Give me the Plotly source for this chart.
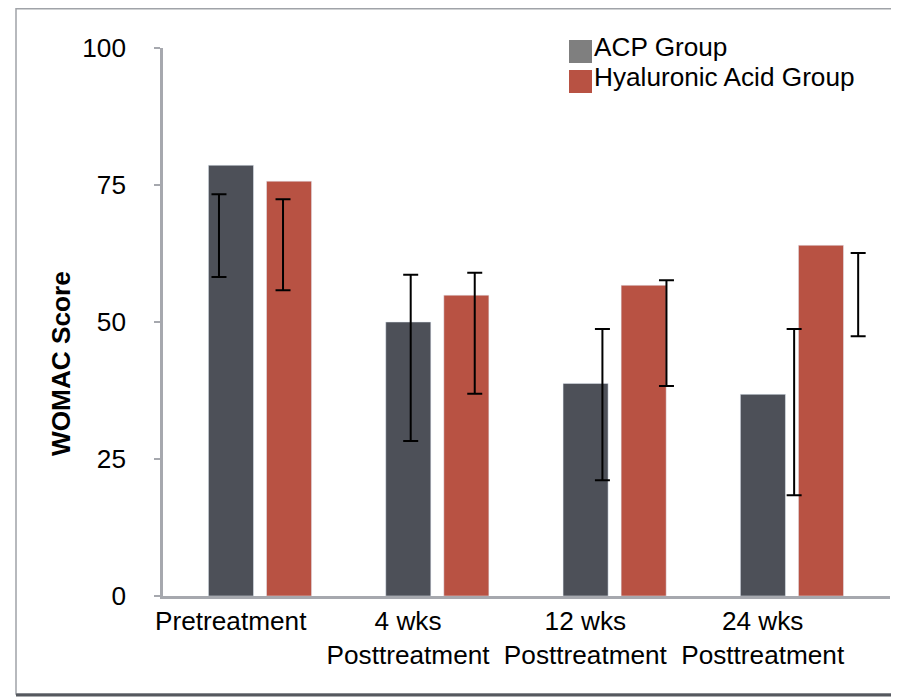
import plotly.graph_objects as go

# ---- data ----
categories = ["Pretreatment", "4 wks<br>Posttreatment", "12 wks<br>Posttreatment", "24 wks<br>Posttreatment"]
series_names = ["ACP Group", "Hyaluronic Acid Group"]
acp_values = [78.6, 50.0, 38.8, 36.8]
ha_values = [75.7, 54.9, 56.7, 64.0]
acp_err_low = [58.2, 28.3, 21.1, 18.4]
acp_err_high = [73.3, 58.6, 48.7, 48.7]
ha_err_low = [55.8, 36.9, 38.3, 47.4]
ha_err_high = [72.4, 59.0, 57.6, 62.6]
y_ticks = [0, 25, 50, 75, 100]

# ---- styles / layout helpers ----
OFF = 8                      # page body margin
W, H = 899 - OFF, 697 - OFF
L, R, T, B = 163 - OFF, 9, 48 - OFF, 101
PW, PH = W - L - R, H - T - B
FONT = "Liberation Sans, Arial, sans-serif"
ACP_COLOR = "rgb(77,80,88)"
HA_COLOR = "rgb(184,82,67)"
ACP_SWATCH = "rgb(127,127,127)"
AXIS_COLOR = "rgb(166,168,174)"
FS = 26.2


def px_x(p):  # screen px -> paper
    return (p - OFF - L) / PW


def px_y(p):
    return (H - B - (p - OFF)) / PH


idx = list(range(len(categories)))
tick_shift = -0.165  # labels sit under the first bar of each group
err_off = 0.167      # error bar overlay offset on its own axis

fig = go.Figure()
fig.add_trace(go.Bar(x=idx, y=acp_values, name=series_names[0], marker_color=ACP_COLOR,
                     showlegend=False))
fig.add_trace(go.Bar(x=idx, y=ha_values, name=series_names[1], marker_color=HA_COLOR,
                     showlegend=False))

for lows, highs, sign in [(acp_err_low, acp_err_high, -1), (ha_err_low, ha_err_high, 1)]:
    fig.add_trace(go.Scatter(
        x=[i + sign * err_off for i in idx], y=lows, xaxis="x2", mode="markers",
        marker=dict(opacity=0, size=1), showlegend=False, hoverinfo="skip",
        error_y=dict(type="data", symmetric=False,
                     array=[h - l for h, l in zip(highs, lows)],
                     arrayminus=[0] * len(lows),
                     color="black", thickness=2, width=7.5)))

fig.update_layout(
    width=W, height=H,
    margin=dict(l=L, r=R, t=T, b=B, pad=0),
    paper_bgcolor="white", plot_bgcolor="white",
    barmode="group", bargap=0.345, bargroupgap=0.224,
    font=dict(family=FONT, size=FS, color="black"),
    showlegend=False,
    xaxis=dict(range=[-0.547, 3.553], tickmode="array",
               tickvals=[i + tick_shift for i in idx], ticktext=categories,
               showline=True, linecolor=AXIS_COLOR, linewidth=2.5,
               ticks="", showgrid=False, zeroline=False,
               tickfont=dict(size=FS), ticklabelstandoff=0),
    xaxis2=dict(range=[-0.459, 3.333], overlaying="x", visible=False),
    yaxis=dict(range=[0, 100], tickmode="array", tickvals=y_ticks,
               showline=True, linecolor=AXIS_COLOR, linewidth=2.5,
               ticks="outside", ticklen=6, tickwidth=2, tickcolor=AXIS_COLOR,
               showgrid=False, zeroline=False,
               tickfont=dict(size=FS), ticklabelstandoff=23),
)

# y-axis title
fig.add_annotation(text="<b>WOMAC Score</b>", textangle=-90, xref="paper", yref="paper",
                   x=px_x(61), y=px_y(364), showarrow=False, font=dict(size=FS),
                   xanchor="center", yanchor="middle")

# legend (drawn manually to match large swatches)
for name, color, top in [(series_names[0], ACP_SWATCH, 40), (series_names[1], HA_COLOR, 70)]:
    fig.add_shape(type="rect", xref="paper", yref="paper",
                  x0=px_x(569), x1=px_x(592), y0=px_y(top + 23), y1=px_y(top),
                  fillcolor=color, line=dict(width=0))
    fig.add_annotation(text=name, xref="paper", yref="paper", x=px_x(592), y=px_y(top + 7),
                       showarrow=False, xanchor="left", yanchor="middle", font=dict(size=FS))

# outer frame
fig.add_shape(type="rect", xref="paper", yref="paper",
              x0=px_x(16), x1=px_x(895), y0=px_y(694), y1=px_y(8.8),
              line=dict(color="rgb(160,163,168)", width=1.5), layer="below")
fig.add_shape(type="line", xref="paper", yref="paper",
              x0=px_x(16), x1=px_x(897), y0=px_y(695), y1=px_y(695),
              line=dict(color="rgb(85,88,94)", width=3))

fig.write_html("out.html")
